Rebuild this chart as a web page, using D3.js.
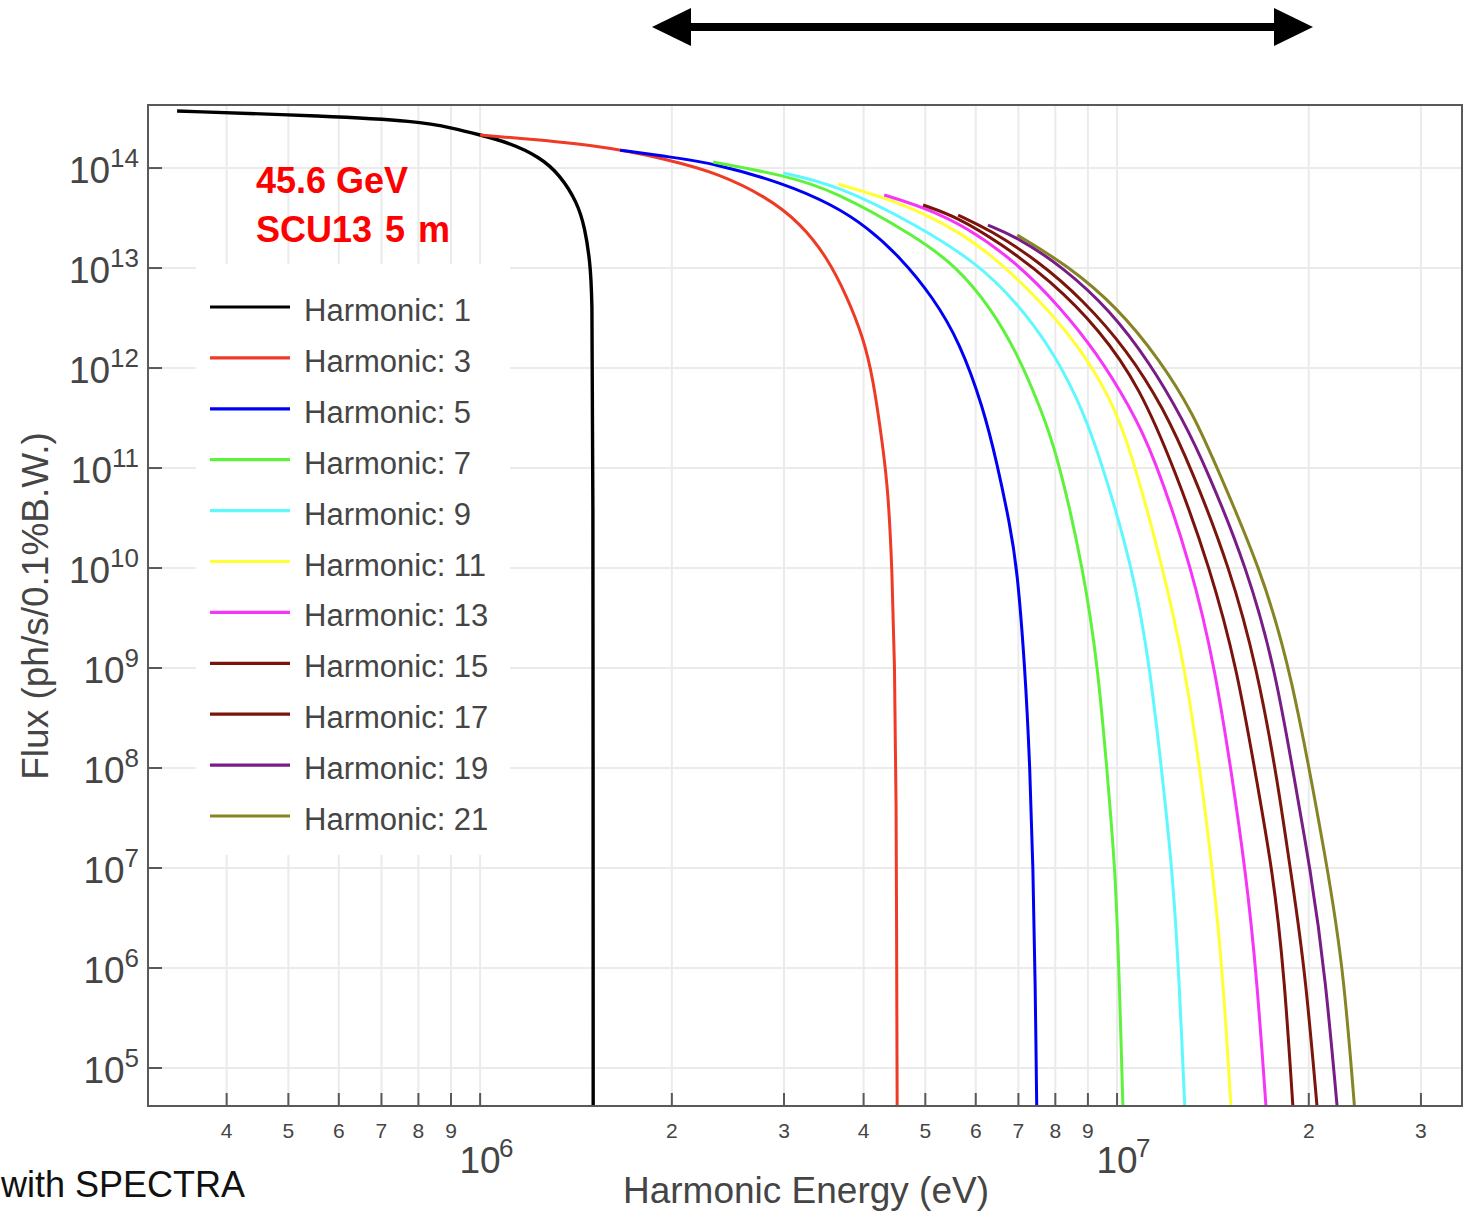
<!DOCTYPE html>
<html><head><meta charset="utf-8">
<script src="https://cdn.jsdelivr.net/npm/d3@7"></script>
<style>
body{margin:0;background:#fff;}
svg{display:block;font-family:"Liberation Sans",Arial,Helvetica,sans-serif;}
</style>
</head><body>
<svg id="chart" width="1466" height="1213"></svg>
<script>
// ---------------- data ----------------
const harmonics = [1, 3, 5, 7, 9, 11, 13, 15, 17, 19, 21];
const seriesColors = ["#000000", "#ef3a26", "#0000f5", "#5ff23c", "#5ff8ff", "#ffff33",
                      "#f636f6", "#7a130c", "#7a160c", "#781d86", "#858526"];

const energyH1 = [3.344e5, 5.75e5, 7.96e5, 9.07e5, 1.0e6, 1.103e6, 1.242e6, 1.335e6, 1.42e6, 1.461e6, 1.488e6, 1.499e6, 1.504e6, 1.505e6];
const fluxH1   = [3.72e14, 3.31e14, 2.95e14, 2.51e14, 2.14e14, 1.82e14, 1.29e14, 8.5e13, 4.57e13, 2.51e13, 1.15e13, 5.37e12, 4.8e11, 1e4];

const energyH3 = [1.0e6, 1.543e6, 1.988e6, 2.356e6, 2.82e6, 3.18e6, 3.505e6, 3.77e6, 3.993e6, 4.14e6, 4.29e6, 4.37e6, 4.435e6, 4.475e6, 4.50e6, 4.515e6, 4.52e6];
const fluxH3   = [2.14e14, 1.70e14, 1.20e14, 8.91e13, 5.13e13, 2.82e13, 1.29e13, 5.13e12, 2.04e12, 7.94e11, 1.62e11, 5.89e10, 9.77e9, 9.77e8, 1e8, 4.8e4, 1e4];

const energyH5 = [1.659e6, 1.988e6, 2.322e6, 2.99e6, 3.583e6, 4.05e6, 4.564e6, 5.14e6, 5.67e6, 6.16e6, 6.48e6, 6.79e6, 6.97e6, 7.17e6, 7.30e6, 7.38e6, 7.435e6, 7.50e6];
const fluxH5   = [1.51e14, 1.29e14, 1.12e14, 7.08e13, 4.27e13, 2.57e13, 1.29e13, 5.13e12, 1.78e12, 4.07e11, 1.12e11, 2.69e10, 9.8e9, 1e9, 1e8, 1e7, 1e6, 1e4];

const energyH7 = [2.322e6, 2.99e6, 3.583e6, 4.853e6, 5.61e6, 6.32e6, 6.97e6, 7.57e6, 8.05e6, 8.85e6, 9.34e6, 9.68e6, 9.93e6, 1.007e7, 1.028e7];
const fluxH7   = [1.148e14, 8.51e13, 6.03e13, 2.04e13, 1.02e13, 4.07e12, 1.41e12, 4.07e11, 1.41e11, 1e10, 1e9, 7.08e7, 1e7, 1e6, 1e4];

const energyH9 = [2.99e6, 3.635e6, 4.853e6, 6.03e6, 6.97e6, 7.85e6, 8.65e6, 9.30e6, 1.06e7, 1.127e7, 1.181e7, 1.22e7, 1.25e7, 1.29e7];
const fluxH9   = [8.91e13, 6.76e13, 2.69e13, 1.12e13, 4.47e12, 1.62e12, 5.13e11, 1.62e11, 1e10, 1e9, 7.08e7, 1e7, 1e6, 1e4];

const energyH11 = [3.648e6, 4.29e6, 5.14e6, 6.16e6, 7.38e6, 8.65e6, 9.75e6, 1.048e7, 1.181e7, 1.279e7, 1.359e7, 1.41e7, 1.465e7, 1.53e7];
const fluxH11   = [6.92e13, 5.13e13, 3.24e13, 1.62e13, 5.62e12, 1.78e12, 5.13e11, 1.62e11, 1e10, 1e9, 7.08e7, 1e7, 1e6, 1e4];

const energyH13 = [4.31e6, 4.96e6, 5.815e6, 6.97e6, 8.14e6, 9.30e6, 1.048e7, 1.139e7, 1.311e7, 1.425e7, 1.521e7, 1.588e7, 1.655e7, 1.74e7];
const fluxH13   = [5.37e13, 4.07e13, 2.57e13, 1.12e13, 4.07e12, 1.41e12, 4.07e11, 1.41e11, 1e10, 1e9, 7.08e7, 1e7, 1e6, 1e4];

const energyH15 = [4.96e6, 5.61e6, 6.55e6, 7.85e6, 9.40e6, 1.085e7, 1.233e7, 1.40e7, 1.543e7, 1.659e7, 1.751e7, 1.83e7, 1.915e7];
const fluxH15   = [4.27e13, 3.24e13, 1.78e13, 7.59e12, 2.40e12, 6.46e11, 9.55e10, 1e10, 1e9, 7.08e7, 1e7, 1e6, 1e4];

const energyH17 = [5.63e6, 6.32e6, 7.49e6, 8.85e6, 1.037e7, 1.181e7, 1.311e7, 1.504e7, 1.659e7, 1.789e7, 1.869e7, 1.975e7, 2.10e7];
const fluxH17   = [3.39e13, 2.40e13, 1.20e13, 4.79e12, 1.51e12, 4.07e11, 9.55e10, 1e10, 1e9, 7.08e7, 1e7, 1e6, 1e4];

const energyH19 = [6.27e6, 6.97e6, 8.23e6, 9.75e6, 1.127e7, 1.27e7, 1.385e7, 1.60e7, 1.77e7, 1.903e7, 2.009e7, 2.12e7, 2.26e7];
const fluxH19   = [2.69e13, 2.04e13, 1.02e13, 3.80e12, 1.12e12, 3.02e11, 9.55e10, 1e10, 1e9, 7.08e7, 1e7, 1e6, 1e4];

const energyH21 = [6.97e6, 8.35e6, 1.0e7, 1.168e7, 1.316e7, 1.441e7, 1.677e7, 1.875e7, 2.14e7, 2.27e7, 2.40e7];
const fluxH21   = [2.14e13, 1.07e13, 4.07e12, 1.2e12, 3.55e11, 9.55e10, 1e10, 1e9, 1e7, 1e6, 1e4];

const energies = [energyH1, energyH3, energyH5, energyH7, energyH9, energyH11, energyH13, energyH15, energyH17, energyH19, energyH21];
const fluxes   = [fluxH1, fluxH3, fluxH5, fluxH7, fluxH9, fluxH11, fluxH13, fluxH15, fluxH17, fluxH19, fluxH21];

const xDomain = [3.01e5, 3.48e7];
const yDomain = [4.17e4, 4.27e14];
const yDecadeTicks = [1e5, 1e6, 1e7, 1e8, 1e9, 1e10, 1e11, 1e12, 1e13, 1e14];
const xDecadeTicks = [1e6, 1e7];
const xMinorTicks = [4e5, 5e5, 6e5, 7e5, 8e5, 9e5, 2e6, 3e6, 4e6, 5e6, 6e6, 7e6, 8e6, 9e6, 2e7, 3e7];
const xMinorLabels = ["4", "5", "6", "7", "8", "9", "2", "3", "4", "5", "6", "7", "8", "9", "2", "3"];

const annotationLines = ["45.6 GeV", "SCU13 5 m"];
const xTitle = "Harmonic Energy (eV)";
const yTitle = "Flux (ph/s/0.1%B.W.)";
const creditText = "with SPECTRA";

// ---------------- layout ----------------
const L = 148, R = 1462, T = 105, B = 1106;
const svg = d3.select("#chart");
const x = d3.scaleLog().domain(xDomain).range([L, R]);
const y = d3.scaleLog().domain(yDomain).range([B, T]);

const gridColor = "#ebebeb", axisColor = "#595959", textColor = "#454545";

// grid
const grid = svg.append("g");
grid.selectAll("line.v").data(xDecadeTicks.concat(xMinorTicks)).join("line")
  .attr("x1", d => x(d)).attr("x2", d => x(d)).attr("y1", T).attr("y2", B)
  .attr("stroke", gridColor).attr("stroke-width", 2);
grid.selectAll("line.h").data(yDecadeTicks).join("line")
  .attr("x1", L).attr("x2", R).attr("y1", d => y(d)).attr("y2", d => y(d))
  .attr("stroke", gridColor).attr("stroke-width", 2);

// legend background (covers grid)
svg.append("rect").attr("x", 196).attr("y", 264).attr("width", 314).attr("height", 591).attr("fill", "#fff");

// curves
svg.append("clipPath").attr("id", "plotclip").append("rect")
  .attr("x", L).attr("y", T).attr("width", R - L).attr("height", B - T);
const line = d3.line().x(d => x(d[0])).y(d => y(d[1])).curve(d3.curveBasis);
const curves = svg.append("g").attr("clip-path", "url(#plotclip)");
harmonics.forEach((h, i) => {
  const pts = energies[i].map((e, j) => [e, fluxes[i][j]]);
  curves.append("path").datum(pts).attr("d", line)
    .attr("fill", "none").attr("stroke", seriesColors[i])
    .attr("stroke-width", i === 0 ? 3.4 : 3).attr("stroke-linejoin", "round");
});

// frame
svg.append("rect").attr("x", L).attr("y", T).attr("width", R - L).attr("height", B - T)
  .attr("fill", "none").attr("stroke", axisColor).attr("stroke-width", 2);

// y axis ticks + labels
const yAxis = svg.append("g");
yDecadeTicks.forEach(v => {
  const yy = y(v);
  yAxis.append("line").attr("x1", L).attr("x2", L + 14).attr("y1", yy).attr("y2", yy)
    .attr("stroke", axisColor).attr("stroke-width", 2);
  const exp = Math.round(Math.log10(v));
  const t = yAxis.append("text").attr("x", 139).attr("y", yy + 15)
    .attr("text-anchor", "end").attr("fill", textColor).style("font-size", "37px");
  t.append("tspan").text("10");
  t.append("tspan").attr("dy", -16).style("font-size", "26px").text(exp);
});

// x axis ticks + labels
const xAxis = svg.append("g");
xMinorTicks.forEach((v, i) => {
  const xx = x(v);
  xAxis.append("line").attr("x1", xx).attr("x2", xx).attr("y1", B).attr("y2", B - 13)
    .attr("stroke", axisColor).attr("stroke-width", 2);
  xAxis.append("text").attr("x", xx).attr("y", 1138).attr("text-anchor", "middle")
    .attr("fill", textColor).style("font-size", "21px").text(xMinorLabels[i]);
});
xDecadeTicks.forEach(v => {
  const xx = x(v);
  xAxis.append("line").attr("x1", xx).attr("x2", xx).attr("y1", B).attr("y2", B - 13)
    .attr("stroke", axisColor).attr("stroke-width", 2);
  xAxis.append("text").attr("x", xx).attr("y", 1173).attr("text-anchor", "middle")
    .attr("fill", textColor).style("font-size", "37px").text("10");
  xAxis.append("text").attr("x", xx + 19).attr("y", 1157).attr("text-anchor", "start")
    .attr("fill", textColor).style("font-size", "26px").text(Math.round(Math.log10(v)));
});

// axis titles
svg.append("text").attr("x", 806).attr("y", 1203).attr("text-anchor", "middle")
  .attr("fill", textColor).style("font-size", "37px").text(xTitle);
svg.append("text").attr("transform", "translate(48,606) rotate(-90)").attr("text-anchor", "middle")
  .attr("fill", textColor).style("font-size", "37px").text(yTitle);

// legend
const leg = svg.append("g");
harmonics.forEach((h, i) => {
  const ly = 307 + i * 50.9;
  leg.append("line").attr("x1", 210).attr("x2", 290).attr("y1", ly).attr("y2", ly)
    .attr("stroke", seriesColors[i]).attr("stroke-width", 3.2);
  leg.append("text").attr("x", 304).attr("y", ly + 14).attr("fill", textColor)
    .style("font-size", "31px").text("Harmonic: " + h);
});

// annotation
annotationLines.forEach((s, i) => {
  svg.append("text").attr("x", 256).attr("y", 193 + i * 49).attr("fill", "#ff0000")
    .style("font-size", "36px").style("font-weight", "bold")
    .style("word-spacing", i === 1 ? "3px" : "0px").text(s);
});

// credit
svg.append("text").attr("x", 245).attr("y", 1197).attr("text-anchor", "end")
  .attr("fill", "#111").style("font-size", "36px").text(creditText);

// double-headed arrow
const ay = 27;
svg.append("line").attr("x1", 680).attr("x2", 1285).attr("y1", ay).attr("y2", ay)
  .attr("stroke", "#000").attr("stroke-width", 8);
svg.append("path").attr("d", `M652,${ay} L691,${ay - 19} L691,${ay + 19} Z`).attr("fill", "#000");
svg.append("path").attr("d", `M1313,${ay} L1274,${ay - 19} L1274,${ay + 19} Z`).attr("fill", "#000");
</script>
</body></html>
